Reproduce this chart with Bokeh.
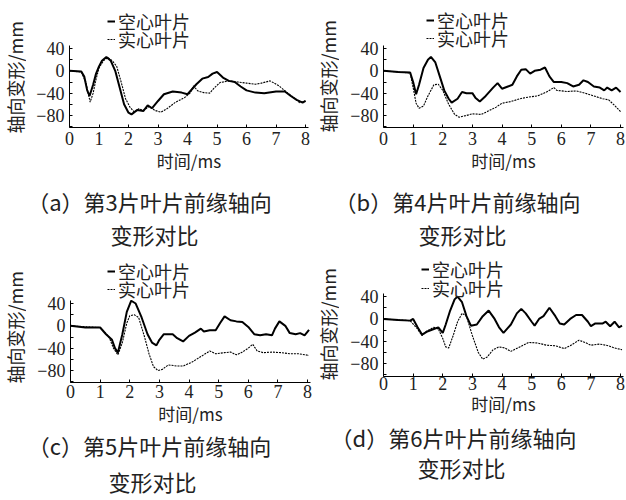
import math
from bokeh.plotting import figure
from bokeh.layouts import row, column
from bokeh.models import FixedTicker, Legend, LegendItem, Range1d
from bokeh.core.properties import value
from bokeh.embed import file_html
from bokeh.resources import INLINE

# ---------------- data ----------------
x_ticks = [0, 1, 2, 3, 4, 5, 6, 7, 8]
y_major = [-80, -40, 0, 40]
y_minor = [-100, -60, -20, 20]
y_labels = {-80: "\u221280", -40: "\u221240", 0: "0", 40: "40"}
series_names = ["空心叶片", "实心叶片"]

ta_h = [0, 0.4, 0.5, 0.6, 0.68, 0.8, 0.9, 1.0, 1.1, 1.25, 1.4, 1.55, 1.7, 1.85, 2.0, 2.1, 2.3, 2.5, 2.65, 2.8,
        3.0, 3.2, 3.5, 3.8, 4.0, 4.3, 4.5, 4.7, 4.85, 5.0, 5.2, 5.4, 5.6, 5.8, 6.0, 6.3, 6.6, 7.0, 7.3, 7.5,
        7.7, 7.9, 8.0]
va_h = [0, -1, -10, -35, -45, -25, -5, 8, 18, 25, 18, 0, -30, -60, -75, -78, -70, -72, -62, -67,
        -54, -42, -37, -39, -42, -24, -14, -11, -5, -2, -12, -18, -20, -28, -35, -39, -40, -37, -37, -45,
        -52, -57, -54]
ta_s = [0, 0.4, 0.55, 0.7, 0.8, 0.9, 1.0, 1.15, 1.3, 1.45, 1.6, 1.75, 1.9, 2.05, 2.2, 2.35, 2.5, 2.7, 2.9, 3.1,
        3.3, 3.6, 3.9, 4.1, 4.2, 4.35, 4.55, 4.75, 4.9, 5.1, 5.4, 5.7, 6.0, 6.3, 6.5, 6.8, 7.1, 7.4, 7.6, 7.8, 8.0]
va_s = [0, -2, -20, -56, -40, -15, 5, 18, 24, 18, 8, -20, -50, -65, -74, -68, -71, -64, -71, -74,
        -68, -56, -48, -39, -27, -36, -39, -40, -31, -21, -18, -20, -22, -24, -22, -18, -27, -40, -48, -57, -54]

tb_h = [0, 0.5, 0.9, 1.0, 1.1, 1.2, 1.35, 1.5, 1.6, 1.75, 1.9, 2.05, 2.2, 2.3, 2.5, 2.65, 2.8, 3.0, 3.1, 3.25,
        3.45, 3.7, 3.85, 4.0, 4.2, 4.35, 4.5, 4.65, 4.8, 4.95, 5.1, 5.3, 5.45, 5.6, 5.75, 6.0, 6.2, 6.4, 6.6, 6.75,
        6.9, 7.1, 7.3, 7.45, 7.55, 7.7, 7.85, 8.0]
vb_h = [0, -2, -3, -20, -42, -25, 5, 20, 25, 15, -10, -35, -50, -57, -50, -38, -40, -40, -48, -55,
        -45, -30, -22, -32, -28, -25, -10, 2, 3, -5, 0, 2, 6, -10, -20, -20, -22, -28, -25, -17,
        -20, -28, -30, -35, -30, -35, -30, -38]
tb_s = [0, 0.5, 0.9, 1.0, 1.1, 1.2, 1.35, 1.5, 1.7, 1.85, 2.0, 2.2, 2.4, 2.55, 2.8, 3.0, 3.3, 3.5, 3.8, 4.0,
        4.3, 4.6, 4.9, 5.2, 5.5, 5.75, 5.85, 6.2, 6.5, 6.8, 7.1, 7.4, 7.6, 7.8, 8.0]
vb_s = [0, -2, -4, -30, -58, -67, -63, -45, -25, -24, -35, -60, -78, -83, -80, -77, -78, -73, -65, -58,
        -55, -50, -47, -45, -38, -30, -35, -37, -36, -40, -45, -50, -52, -62, -73]

tc_h = [0, 0.5, 1.0, 1.2, 1.4, 1.5, 1.6, 1.75, 1.9, 2.05, 2.2, 2.4, 2.6, 2.75, 2.9, 3.0, 3.15, 3.3, 3.45, 3.6,
        3.8, 4.0, 4.2, 4.4, 4.5, 4.7, 4.9, 5.05, 5.2, 5.4, 5.6, 5.8, 6.0, 6.2, 6.4, 6.6, 6.8, 6.9, 7.05, 7.25,
        7.4, 7.6, 7.75, 7.9, 8.05]
vc_h = [0, -3, -3, -15, -25, -40, -48, -15, 25, 45, 40, 15, -15, -30, -35, -25, -15, -15, -15, -22,
        -28, -18, -12, -5, -10, -8, -8, 5, 17, 10, 8, 7, -2, -15, -17, -15, -17, -5, 8, 0,
        -13, -15, -13, -17, -7]
tc_s = [0, 1.0, 1.3, 1.45, 1.6, 1.75, 1.9, 2.0, 2.15, 2.3, 2.5, 2.65, 2.8, 2.95, 3.1, 3.3, 3.6, 3.8, 4.1, 4.4,
        4.7, 4.9, 5.2, 5.4, 5.6, 5.8, 6.0, 6.15, 6.3, 6.5, 6.8, 7.1, 7.4, 7.7, 8.05]
vc_s = [0, -3, -20, -40, -52, -30, 5, 18, 20, 15, -20, -50, -73, -80, -78, -70, -72, -72, -65, -55,
        -45, -50, -48, -47, -52, -47, -40, -33, -45, -48, -47, -48, -50, -50, -53]

td_h = [0, 0.5, 0.9, 1.0, 1.15, 1.3, 1.5, 1.7, 1.85, 2.0, 2.1, 2.25, 2.4, 2.5, 2.65, 2.8, 2.95, 3.15, 3.35, 3.55,
        3.75, 3.9, 4.05, 4.3, 4.5, 4.65, 4.8, 5.0, 5.1, 5.25, 5.4, 5.6, 5.8, 5.95, 6.1, 6.3, 6.5, 6.7, 6.9, 7.0,
        7.15, 7.4, 7.5, 7.65, 7.8, 7.95, 8.05]
vd_h = [0, -2, -3, 0, -15, -28, -22, -18, -15, -25, -10, 15, 35, 40, 30, 5, -12, -10, 5, 15,
        0, -15, -25, -10, 10, 18, 10, -5, -12, 0, 5, 20, 5, -8, -10, 0, 7, 7, -5, -13,
        -8, -8, -5, -13, -5, -15, -12]
td_s = [0, 0.9, 1.15, 1.3, 1.45, 1.7, 1.85, 2.0, 2.1, 2.2, 2.35, 2.5, 2.65, 2.8, 3.0, 3.2, 3.35, 3.5, 3.7, 3.9,
        4.1, 4.3, 4.6, 4.9, 5.2, 5.5, 5.8, 6.1, 6.3, 6.6, 6.8, 7.0, 7.3, 7.6, 7.8, 8.05]
vd_s = [0, -3, -18, -30, -22, -15, -18, -35, -50, -52, -30, -5, 10, 5, -30, -60, -72, -68, -55, -50,
        -52, -58, -50, -42, -43, -47, -48, -53, -48, -38, -42, -47, -45, -48, -52, -55]

captions = [
    ["（a）第3片叶片前缘轴向", "变形对比"],
    ["（b）第4片叶片前缘轴向", "变形对比"],
    ["（c）第5片叶片前缘轴向", "变形对比"],
    ["（d）第6片叶片前缘轴向", "变形对比"],
]
x_title = "时间/ms"
y_title = "轴向变形/mm"

CJK = "Noto Sans CJK SC"
SERIF = "Liberation Serif"
INK = "#222222"
W = 313
YLAB_W = 26


def bare(fig):
    try:
        fig.frame_align = False
    except Exception:
        pass
    fig.outline_line_color = None
    fig.xgrid.visible = False
    fig.ygrid.visible = False


def make_panel(th, vh, ts, vs, cap, left, right, frame_h, y_lo, y_hi, bottom,
               leg_x, leg_y, ylab_bottom, cap_h, cap_xy, tick_sto=4, lab_sto=0):
    ph = frame_h + bottom
    p = figure(width=W - YLAB_W, height=ph, output_backend="svg", toolbar_location=None,
               x_range=Range1d(0, 8.1), y_range=Range1d(y_lo, y_hi),
               min_border_left=left - YLAB_W, min_border_right=right,
               min_border_top=0, min_border_bottom=bottom)
    bare(p)

    rh = p.line(th, vh, line_color="black", line_width=2.0)
    rs = p.line(ts, vs, line_color="black", line_width=1.1, line_dash="2 1")

    xa = p.xaxis[0]
    xa.ticker = FixedTicker(ticks=x_ticks)
    xa.major_tick_in = 3
    xa.major_tick_out = 0
    xa.minor_tick_in = 0
    xa.minor_tick_out = 0
    xa.major_label_text_font = SERIF
    xa.major_label_text_font_size = "18px"
    xa.major_label_text_color = INK
    xa.major_label_standoff = tick_sto
    xa.axis_label = x_title
    xa.axis_label_text_font = CJK
    xa.axis_label_text_font_size = "17px"
    xa.axis_label_text_font_style = "normal"
    xa.axis_label_text_color = INK
    xa.axis_label_standoff = lab_sto

    ya = p.yaxis[0]
    ya.ticker = FixedTicker(ticks=y_major, minor_ticks=y_minor)
    ya.bounds = (y_lo, 45.5)
    ya.major_label_overrides = y_labels
    ya.major_tick_in = 3
    ya.major_tick_out = 0
    ya.minor_tick_in = 3
    ya.minor_tick_out = 0
    ya.major_label_text_font = SERIF
    ya.major_label_text_font_size = "18px"
    ya.major_label_text_color = INK
    ya.major_label_standoff = 5

    for name, r, ly in zip(series_names, [rh, rs], leg_y):
        lg = Legend(items=[LegendItem(label=name, renderers=[r])],
                    location=(leg_x, ly), orientation="vertical",
                    padding=0, margin=0, spacing=0,
                    glyph_width=8, glyph_height=16, label_height=16,
                    label_standoff=3,
                    label_text_font=CJK, label_text_font_size="18px",
                    label_text_color=INK,
                    background_fill_alpha=0, border_line_alpha=0)
        p.add_layout(lg)

    # y-axis title strip: rotated text that starts at the foot of the drawn axis and reads upwards
    yl = figure(width=YLAB_W, height=ph, output_backend="svg", toolbar_location=None,
                x_range=Range1d(0, YLAB_W), y_range=Range1d(0, ph),
                min_border_left=0, min_border_right=0, min_border_top=0, min_border_bottom=0,
                x_axis_type=None, y_axis_type=None)
    bare(yl)
    yl.text(x=[14], y=[ph - ylab_bottom], text=[y_title], angle=math.pi / 2,
            text_font=value(CJK), text_font_size=value("18px"), text_color=INK,
            text_align="left", text_baseline="middle")

    # caption strip
    c = figure(width=W, height=cap_h, output_backend="svg", toolbar_location=None,
               x_range=Range1d(0, W), y_range=Range1d(cap_h, 0),
               min_border_left=0, min_border_right=0, min_border_top=0, min_border_bottom=0,
               x_axis_type=None, y_axis_type=None)
    bare(c)
    c.text(x=[xy[0] for xy in cap_xy], y=[xy[1] for xy in cap_xy], text=cap,
           text_font=value(CJK), text_font_size=value("22px"), text_color=INK,
           text_align="center", text_baseline="middle")
    return column(row(yl, p), c)


pa = make_panel(ta_h, va_h, ta_s, va_s, captions[0], 69, 5, 127, -101.5, 126.0, 50,
                38, (93, 75), 133, 73, [(149, 23), (154, 56)])
pb = make_panel(tb_h, vb_h, tb_s, vb_s, captions[1], 70, 3, 127, -101.5, 126.0, 50,
                43, (94, 76), 132, 73, [(144, 23), (149, 56)])
pc = make_panel(tc_h, vc_h, tc_s, vc_s, captions[2], 70, 3, 132, -101.5, 135.0, 47,
                37, (98, 80), 133, 71, [(149, 15), (152, 51)], tick_sto=2)
pd = make_panel(td_h, vd_h, td_s, vd_s, captions[3], 70, 3, 126, -103.0, 122.5, 44,
                38, (94, 75), 130, 80, [(140, 16), (148, 46)], tick_sto=0, lab_sto=-2)

layout = column(row(pa, pb), row(pc, pd))

open("out.html", "w").write(file_html(layout, INLINE))
